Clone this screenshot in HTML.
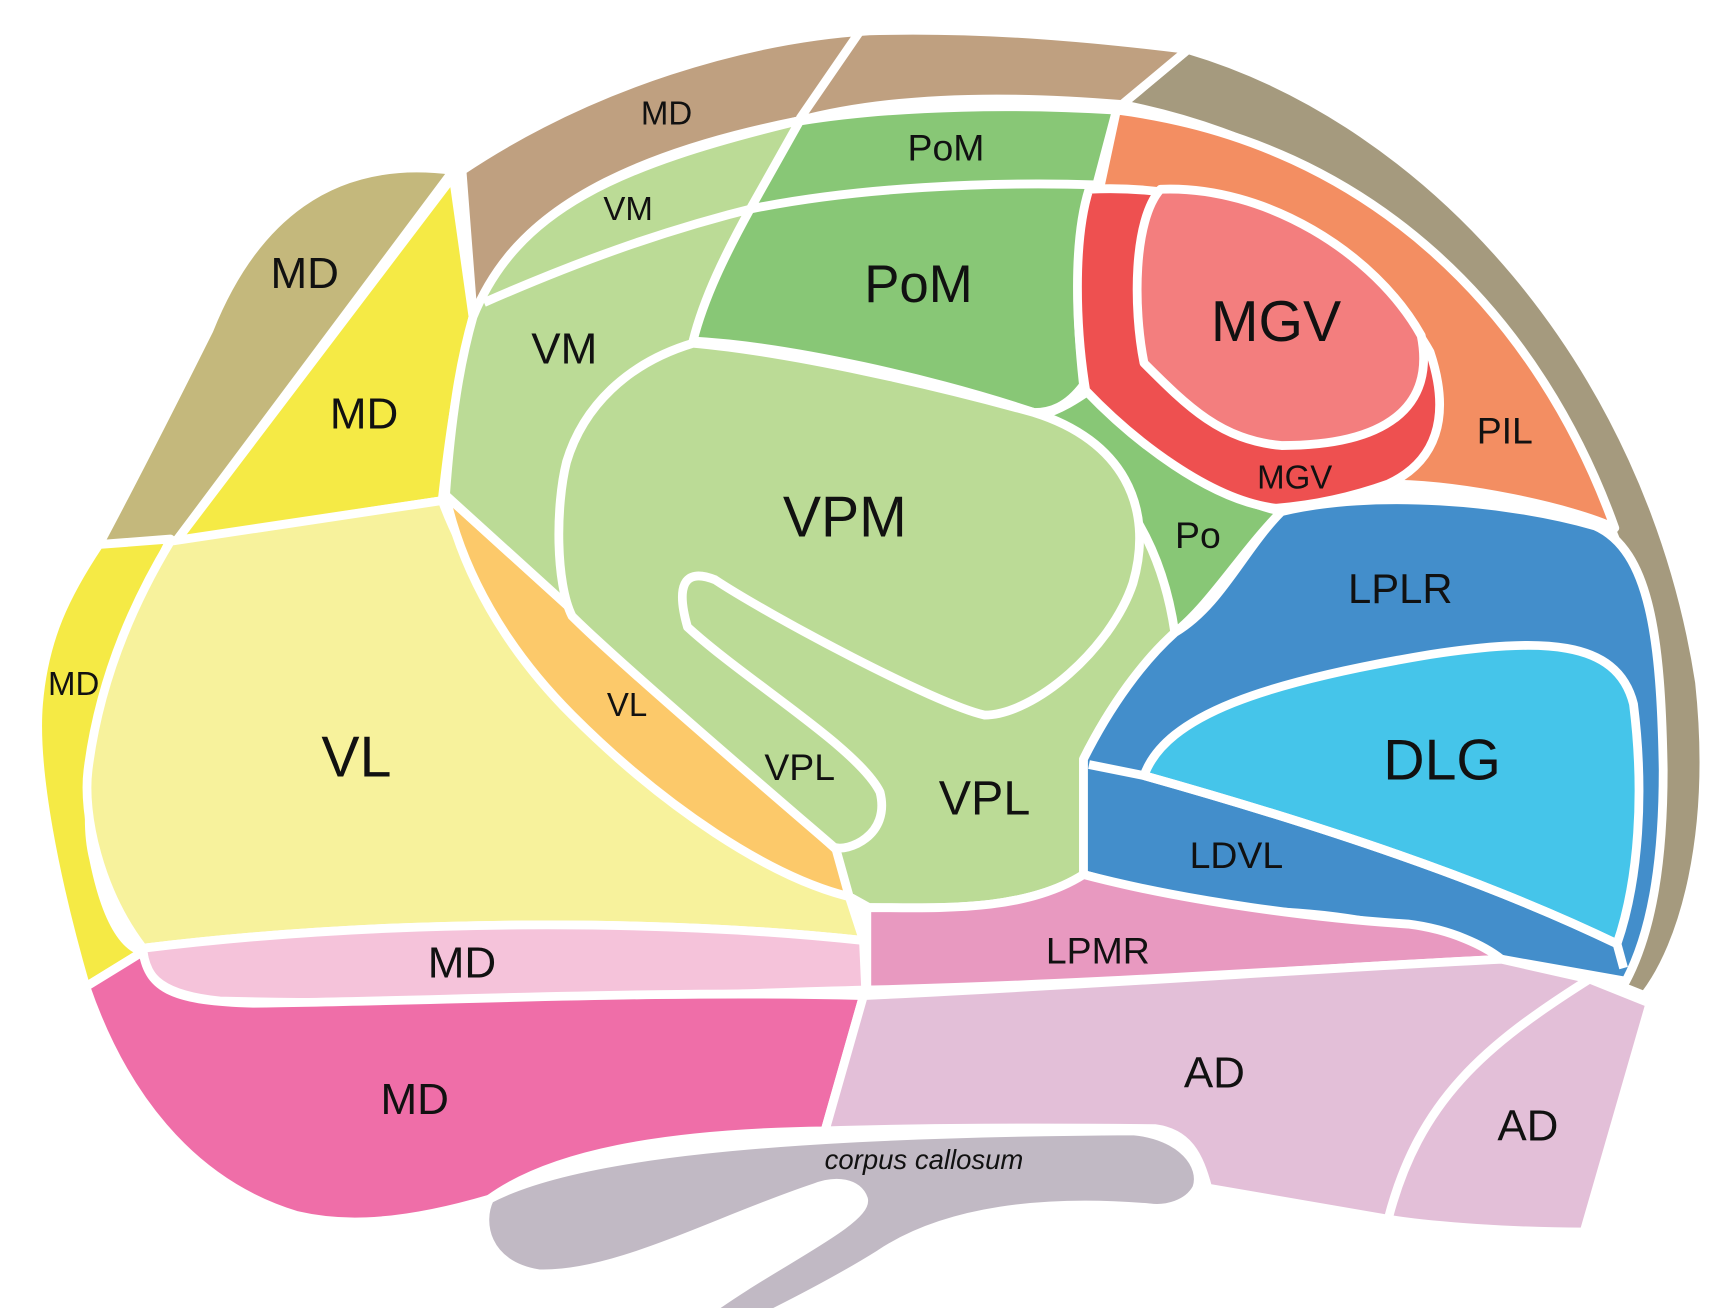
<!DOCTYPE html>
<html><head><meta charset="utf-8"><style>
html,body{margin:0;padding:0;background:#fff;}
svg{display:block;}
text{font-family:"Liberation Sans",Arial,sans-serif;fill:#111;text-anchor:middle;dominant-baseline:middle;}
</style></head><body>
<svg width="1716" height="1308" viewBox="0 0 1560 1189" xmlns="http://www.w3.org/2000/svg">
<g stroke="#fff" stroke-width="8" stroke-linejoin="round">
<path fill="#a59a7e" d="M1020,95 L1080,45 C1300,110 1500,330 1545,620 C1560,760 1530,860 1495,905 L1470,895 C1500,800 1520,650 1480,520 C1400,300 1250,140 1020,95 Z"/>
<path fill="#bfa080" d="M420,155 C540,75 680,35 790,28 C900,25 1000,35 1080,45 L1020,95 C900,85 800,90 725,110 C600,135 480,180 440,270 L430,285 Z"/>
<path fill="none" d="M782,28 L727,108"/>
<path fill="#c4b87c" d="M90,495 C130,420 170,340 190,300 C230,200 300,140 412,155 L160,492 Z"/>
<path fill="#f5ea45" d="M160,492 L412,160 L430,288 C415,350 408,400 402,455 Z"/>
<path fill="#f5ea45" d="M90,495 L155,490 C100,600 70,720 85,780 C95,830 110,860 130,865 L78,897 C50,800 30,700 35,640 C40,580 60,540 90,495 Z"/>
<path fill="#f7f29c" d="M155,492 L402,455 C440,560 550,680 680,760 L772,815 L785,855 C600,835 350,835 130,862 C90,810 75,740 80,700 C90,620 120,550 155,492 Z"/>
<path fill="#fcc96a" d="M405,450 L760,772 L780,817 C700,800 600,730 520,650 C460,590 420,520 405,450 Z"/>
<path fill="#bbdb96" d="M430,288 C470,190 560,150 725,110 L1000,168 L1070,575 C1040,600 1010,640 985,690 L985,795 C930,830 850,825 790,825 L772,815 L760,772 L405,450 C410,380 418,330 430,288 Z"/>
<path fill="none" d="M440,275 C520,240 600,210 690,188 C800,165 900,165 1000,168"/>
<path fill="#88c776" d="M727,110 C820,95 930,95 1015,100 L997,168 C900,168 800,170 682,190 Z"/>
<path fill="#88c776" d="M682,190 C780,170 900,165 997,168 C980,200 975,260 985,350 C970,370 955,375 940,375 C850,345 720,315 630,310 C640,270 660,230 682,190 Z"/>
<path fill="#88c776" d="M945,378 C965,372 980,362 990,355 C1050,410 1100,450 1165,465 C1130,500 1100,550 1068,575 C1060,520 1040,470 1000,430 C985,410 965,390 945,378 Z"/>
<path fill="#bbdb96" d="M630,312 C720,320 850,350 940,375 C1020,400 1050,460 1030,530 C1010,590 940,650 895,650 C850,640 700,560 650,527 C620,515 615,535 625,570 C680,620 780,680 800,720 C810,760 770,775 758,770 C700,720 560,600 520,560 C505,530 505,460 515,420 C530,370 570,330 630,312 Z"/>
<path fill="#f38e62" d="M1015,100 C1250,130 1400,290 1468,480 C1430,462 1330,440 1260,440 L1000,170 Z"/>
<path fill="#ee5050" d="M990,172 C1120,165 1250,230 1300,320 C1320,380 1305,420 1262,440 C1220,455 1185,460 1160,462 C1100,455 1030,400 987,355 C978,300 975,220 990,172 Z"/>
<path fill="#f37e7e" d="M1055,172 C1150,168 1250,230 1292,305 C1305,370 1260,405 1165,405 C1110,400 1080,370 1040,330 C1030,280 1030,200 1055,172 Z"/>
<path fill="#438ecb" d="M1165,465 C1250,445 1370,455 1450,478 C1500,500 1510,580 1512,700 C1512,790 1500,850 1478,892 L1365,872 C1330,855 1250,835 1180,830 C1100,825 1040,810 985,795 L985,690 C1010,640 1040,600 1068,575 C1110,550 1130,500 1165,465 Z"/>
<path fill="#45c5ea" d="M1040,705 C1060,650 1150,620 1300,595 C1400,580 1470,580 1485,640 C1495,720 1490,800 1470,858 C1350,800 1200,750 1040,705 Z"/>
<path fill="none" d="M990,695 L1040,705 C1200,750 1350,800 1470,858 L1476,880"/>
<path fill="#e899c0" d="M788,825 C850,825 930,830 985,795 C1080,820 1200,835 1280,840 C1320,845 1350,860 1365,872 C1200,880 1000,895 788,900 Z"/>
<path fill="#f5c3da" d="M130,862 C350,835 600,835 785,855 L787,900 C600,905 400,915 200,910 C150,905 130,890 130,862 Z"/>
<path fill="#ef6ea8" d="M78,897 L130,865 C135,900 160,910 230,912 C400,910 600,900 785,905 L750,1028 C600,1030 500,1050 445,1090 C350,1118 300,1112 270,1105 C170,1075 110,990 78,897 Z"/>
<path fill="#e3bfd8" d="M785,905 C1000,895 1200,880 1365,872 L1445,890 L1500,912 L1440,1120 C1380,1120 1300,1115 1260,1108 L1098,1080 C1090,1050 1080,1030 1050,1026 C950,1025 850,1025 750,1028 Z"/>
<path fill="none" d="M1445,890 C1350,950 1290,1000 1262,1108"/>
<path fill="#c1b9c4" d="M445,1090 C520,1050 700,1030 1030,1028 C1075,1032 1095,1060 1088,1080 C1080,1095 1060,1100 1045,1098 C950,1090 860,1100 800,1140 C760,1165 720,1185 700,1195 L640,1195 C700,1150 790,1110 785,1090 C780,1075 760,1072 740,1080 C650,1110 560,1160 490,1158 C440,1150 435,1110 445,1090 Z"/>
</g>
<g>
<text x="606" y="105" font-size="30">MD</text>
<text x="860" y="137" font-size="34">PoM</text>
<text x="571" y="192" font-size="30">VM</text>
<text x="277" y="251" font-size="40">MD</text>
<text x="835" y="262" font-size="48">PoM</text>
<text x="1160" y="296" font-size="52">MGV</text>
<text x="513" y="320" font-size="40">VM</text>
<text x="331" y="379" font-size="40">MD</text>
<text x="1368" y="394" font-size="34">PIL</text>
<text x="1177" y="436" font-size="30">MGV</text>
<text x="768" y="474" font-size="52">VPM</text>
<text x="1089" y="489" font-size="34">Po</text>
<text x="1273" y="538" font-size="38">LPLR</text>
<text x="67" y="624" font-size="30">MD</text>
<text x="570" y="643" font-size="30">VL</text>
<text x="324" y="692" font-size="52">VL</text>
<text x="1311" y="695" font-size="52">DLG</text>
<text x="727" y="700" font-size="34">VPL</text>
<text x="895" y="729" font-size="44">VPL</text>
<text x="1124" y="780" font-size="34">LDVL</text>
<text x="998" y="867" font-size="34">LPMR</text>
<text x="420" y="878" font-size="40">MD</text>
<text x="1104" y="978" font-size="40">AD</text>
<text x="377" y="1002" font-size="40">MD</text>
<text x="1389" y="1026" font-size="40">AD</text>
<text x="840" y="1056" font-size="25" font-style="italic">corpus callosum</text>
</g>
</svg>
</body></html>
